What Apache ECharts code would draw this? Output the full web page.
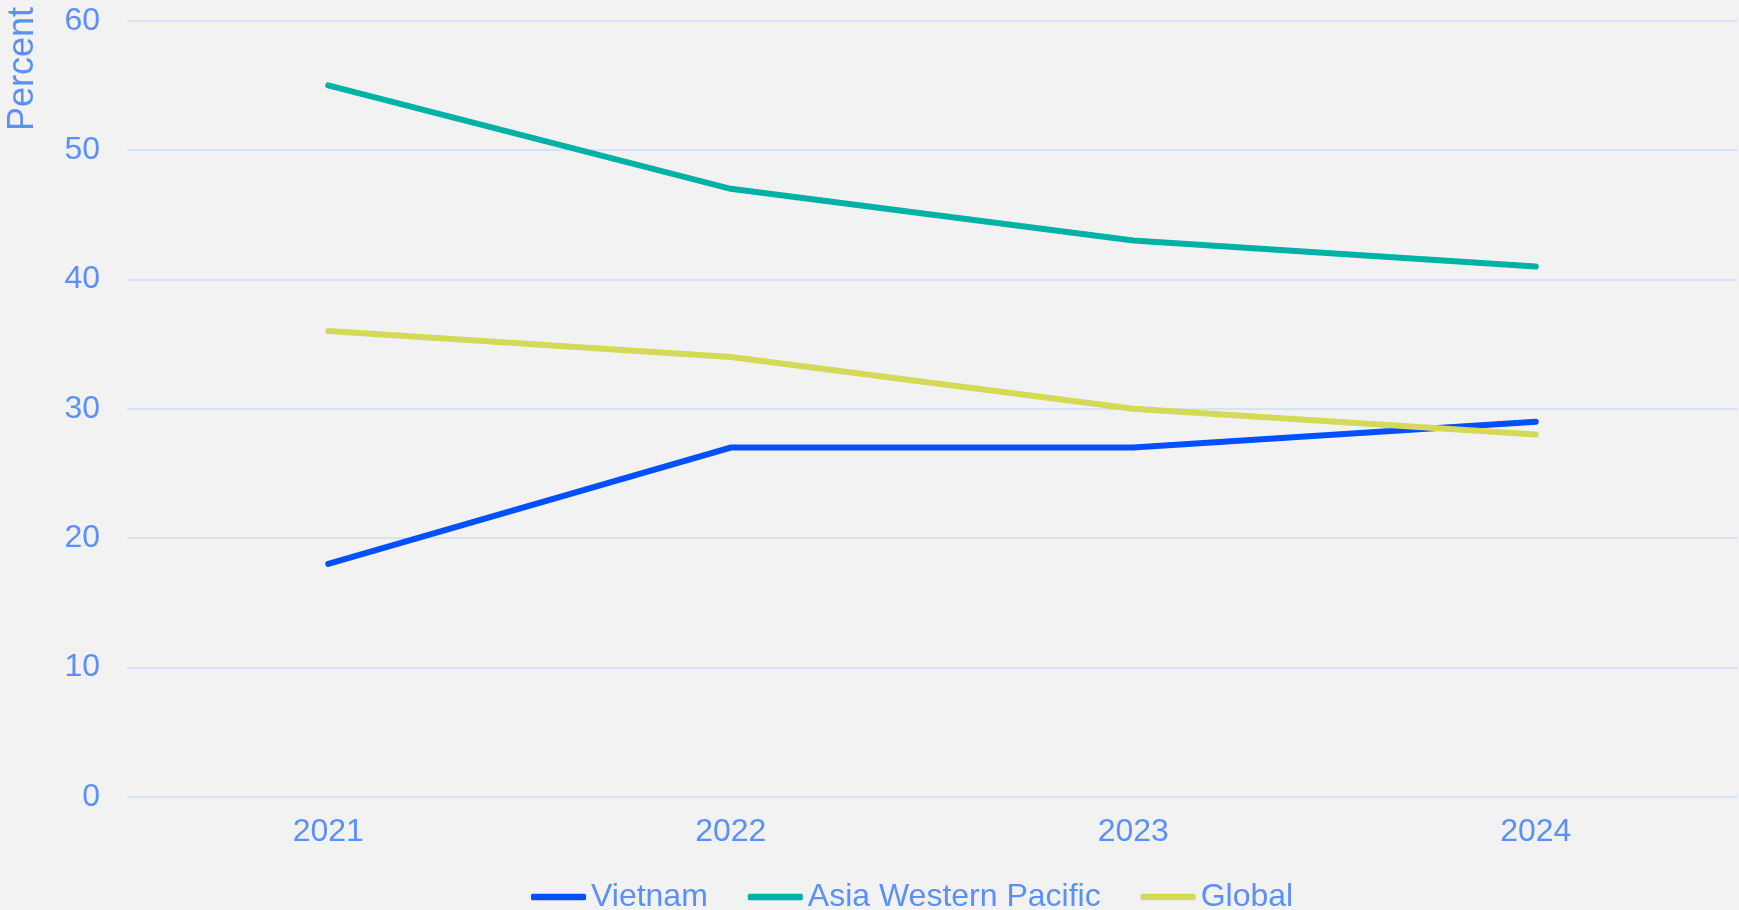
<!DOCTYPE html>
<html>
<head>
<meta charset="utf-8">
<script src="https://cdn.jsdelivr.net/npm/echarts@6/dist/echarts.min.js"></script>
<style>
html,body{margin:0;padding:0;background:#f2f2f2;}
#chart{width:1739px;height:910px;}
</style>
</head>
<body>
<div id="chart"></div>
<script>
const categories = ['2021', '2022', '2023', '2024'];
const vietnam = [18, 27, 27, 29];
const asiaWesternPacific = [55, 47, 43, 41];
const globalValues = [36, 34, 30, 28];
const seriesNames = ['Vietnam', 'Asia Western Pacific', 'Global'];
const yTicks = { min: 0, max: 60, interval: 10 };

const textColor = '#5b8ff9';
const font = '"Liberation Sans", Arial, sans-serif';
const colors = ['#0050ff', '#00b2a5', '#d4d957'];

const chart = echarts.init(document.getElementById('chart'));
const mk = (name, data, color) => ({
  name, type: 'line', data, symbol: 'none', smooth: false,
  lineStyle: { color, width: 6, cap: 'round', join: 'miter' },
  itemStyle: { color }
});
chart.setOption({
  backgroundColor: '#f2f2f2',
  animation: false,
  grid: { left: 127, right: 2, top: 20.7, bottom: 113.3, containLabel: false },
  legend: {
    data: seriesNames,
    left: 531, top: 881, padding: 0,
    icon: 'roundRect',
    itemWidth: 55, itemHeight: 6.5, itemGap: 40,
    textStyle: { color: textColor, fontSize: 32, fontFamily: font }
  },
  xAxis: {
    type: 'category', data: categories, boundaryGap: true,
    axisLine: { show: false }, axisTick: { show: false },
    axisLabel: { color: textColor, fontSize: 32, fontFamily: font, margin: 19 }
  },
  yAxis: {
    type: 'value', min: yTicks.min, max: yTicks.max, interval: yTicks.interval,
    axisLine: { show: false }, axisTick: { show: false },
    axisLabel: { color: textColor, fontSize: 32, fontFamily: font, margin: 27 },
    splitLine: { lineStyle: { color: '#d6e2f8', width: 2 } }
  },
  graphic: [{
    type: 'text', x: 23, y: 131, rotation: Math.PI / 2,
    style: { text: 'Percent', fill: textColor, fontSize: 36, fontFamily: font,
             textAlign: 'left', textVerticalAlign: 'middle' }
  }],
  series: [
    mk(seriesNames[0], vietnam, colors[0]),
    mk(seriesNames[1], asiaWesternPacific, colors[1]),
    mk(seriesNames[2], globalValues, colors[2])
  ]
});
</script>
</body>
</html>
